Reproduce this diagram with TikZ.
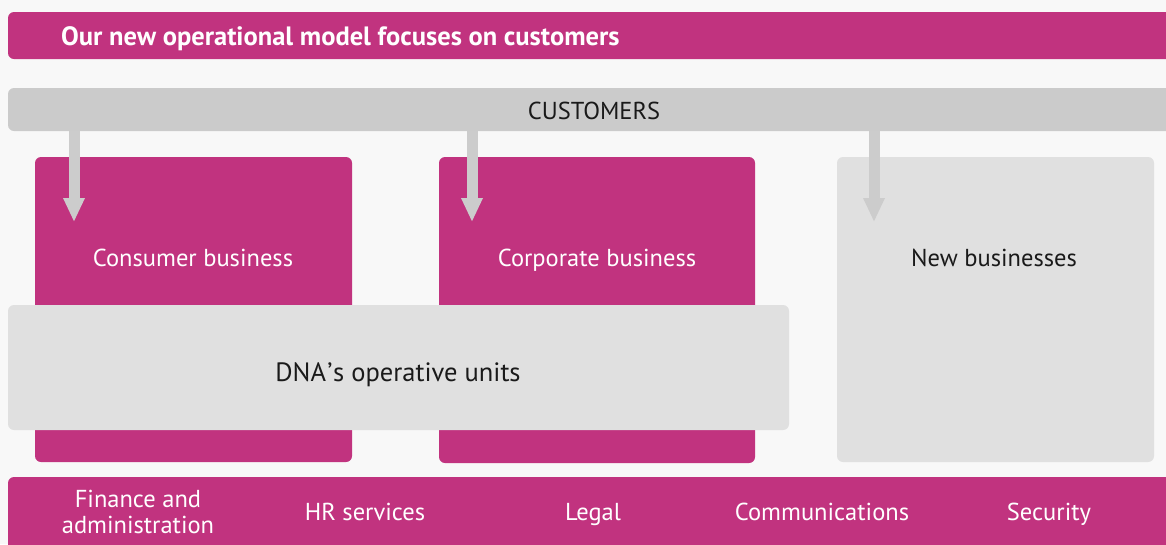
\documentclass[tikz,border=0pt]{standalone}
\usepackage{fontspec}
\setmainfont{PT Sans}
\usetikzlibrary{arrows.meta}
\definecolor{brand}{HTML}{C1337F}
\definecolor{paper}{HTML}{F8F8F8}
\definecolor{custgrey}{HTML}{CBCBCB}
\definecolor{unitgrey}{HTML}{E0E0E0}
\definecolor{arrowgrey}{HTML}{CCCCCC}
\definecolor{ink}{HTML}{1A1A1A}
\tikzset{
  panel/.style={rounded corners=6pt, draw=none},
  magenta/.style={panel, fill=brand},
  light/.style={panel, fill=unitgrey},
  label/.style={anchor=base, inner sep=0pt, align=center,
    font=\fontsize{24.5}{26}\selectfont},
  whitetxt/.style={label, text=white},
  darktxt/.style={label, text=ink},
  feed/.style={draw=arrowgrey, line width=11pt, line cap=butt,
    -{Triangle[width=20pt,length=24pt]}},
}
\begin{document}
\begin{tikzpicture}[x=1pt, y=-1pt]
  \clip (0,0) rectangle (1166,544);
  \fill[paper] (0,0) rectangle (1166,544);

  % heading band
  \fill[magenta] (8,12) rectangle (1190,59);
  \node[anchor=base west, inner sep=0pt, text=white,
    font=\fontsize{26.5}{30}\selectfont\bfseries]
    (title) at (61,45) {Our new operational model focuses on customers};

  % customers band
  \fill[panel, fill=custgrey] (8,88) rectangle (1190,131);
  \node[darktxt] (cust) at (594,119) {CUSTOMERS};
  \coordinate (custbottom) at (0,131);

  % business areas
  \fill[magenta] (35,157) rectangle (352,462);
  \node[whitetxt] (consumer) at (193,266) {Consumer business};
  \fill[magenta] (439,157) rectangle (755,463);
  \node[whitetxt] (corporate) at (597,266) {Corporate business};
  \fill[light] (837,157) rectangle (1154,462);
  \node[darktxt] (newbiz) at (994,266) {New businesses};

  % operative units across both business areas
  \fill[light] (8,305) rectangle (789,430);
  \node[darktxt, font=\fontsize{26.5}{28}\selectfont] (dna) at (398,381)
    {DNA\kern1.5pt’\kern0.5pt s operative units};

  % support functions band
  \fill[magenta] (8,477) rectangle (1190,570);
  \node[whitetxt] (fin) at (138,533) {Finance and\\administration};
  \node[whitetxt] (hr) at (365,520) {HR services};
  \node[whitetxt] (legal) at (593,520) {Legal};
  \node[whitetxt] (comm) at (822,520) {Communications};
  \node[whitetxt] (sec) at (1049,520) {Security};

  % customer flows into each business area
  \coordinate (tip1) at (74,222);
  \coordinate (tip2) at (472,222);
  \coordinate (tip3) at (874,222);
  \draw[feed] (custbottom -| tip1) -- (tip1);
  \draw[feed] (custbottom -| tip2) -- (tip2);
  \draw[feed] (custbottom -| tip3) -- (tip3);
\end{tikzpicture}
\end{document}
